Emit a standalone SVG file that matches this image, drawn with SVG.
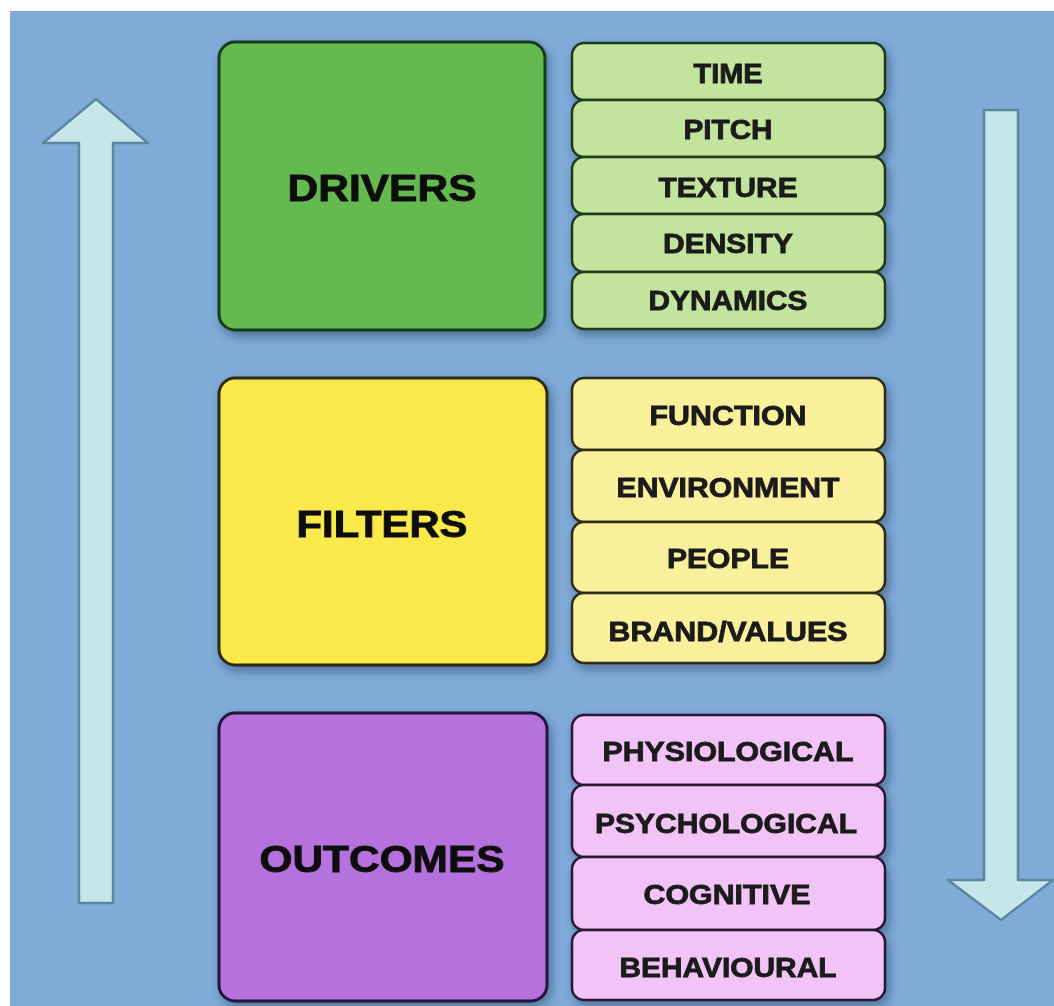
<svg xmlns="http://www.w3.org/2000/svg" width="1054" height="1006" viewBox="0 0 1054 1006">
  <defs>
    <filter id="sh" x="-10%" y="-10%" width="125%" height="125%">
      <feDropShadow dx="3" dy="5" stdDeviation="5" flood-color="#1d3550" flood-opacity="0.45"/>
    </filter>
    <style>
      .main { font-family: "Liberation Sans", Arial, Helvetica, sans-serif; font-weight: bold; font-size: 37px; text-anchor: middle; fill: #111; stroke: #111; stroke-width: 0.9; }
      .item { font-family: "Liberation Sans", Arial, Helvetica, sans-serif; font-weight: bold; font-size: 27px; text-anchor: middle; fill: #1a1a1a; stroke: #1a1a1a; stroke-width: 0.8; }
      .box { stroke-width: 3; }
      .itm { stroke-width: 2.5; }
      .g { fill: #65ba4f; stroke: #173a1c; }
      .gi { fill: #c2e49d; stroke: #1f3a1c; }
      .y { fill: #f9e94b; stroke: #2e2b12; }
      .yi { fill: #f9f09c; stroke: #2e2b12; }
      .p { fill: #b571dd; stroke: #24123a; }
      .pi { fill: #f1c3f7; stroke: #2a1536; }
      .arrow { fill: #c7e6ea; stroke: #5a87a0; stroke-width: 2.5; stroke-linejoin: round; }
    </style>
  </defs>
  <rect x="0" y="0" width="1054" height="1006" fill="#ffffff"/>
  <rect x="10" y="11" width="1044" height="995" fill="#80aad8"/>

  <g id="connectors">
    <polygon id="arrow-up" class="arrow" points="96,99 148,143 113,143 113,903 79,903 79,143 43,143"/>
    <polygon id="arrow-down" class="arrow" points="984,110 1018,110 1018,880 1053,880 1001,920 948,880 984,880"/>
  </g>

  <g id="drivers" filter="url(#sh)">
    <rect class="box g" x="219" y="42" width="326" height="288" rx="16"/>
    <text class="main" x="382" y="201" textLength="189" lengthAdjust="spacingAndGlyphs">DRIVERS</text>
  </g>
  <g id="drivers-items" filter="url(#sh)">
    <g id="time"><rect class="itm gi" x="572" y="43" width="313" height="57" rx="12"/><text class="item" x="728" y="83" textLength="69" lengthAdjust="spacingAndGlyphs">TIME</text></g>
    <g id="pitch"><rect class="itm gi" x="572" y="100" width="313" height="57" rx="12"/><text class="item" x="728" y="139" textLength="89" lengthAdjust="spacingAndGlyphs">PITCH</text></g>
    <g id="texture"><rect class="itm gi" x="572" y="157" width="313" height="57" rx="12"/><text class="item" x="728" y="197" textLength="139" lengthAdjust="spacingAndGlyphs">TEXTURE</text></g>
    <g id="density"><rect class="itm gi" x="572" y="214" width="313" height="58" rx="12"/><text class="item" x="728" y="253" textLength="130" lengthAdjust="spacingAndGlyphs">DENSITY</text></g>
    <g id="dynamics"><rect class="itm gi" x="572" y="272" width="313" height="57" rx="12"/><text class="item" x="728" y="310" textLength="159" lengthAdjust="spacingAndGlyphs">DYNAMICS</text></g>
  </g>

  <g id="filters" filter="url(#sh)">
    <rect class="box y" x="219" y="378" width="328" height="287" rx="16"/>
    <text class="main" x="382" y="537" textLength="171" lengthAdjust="spacingAndGlyphs">FILTERS</text>
  </g>
  <g id="filters-items" filter="url(#sh)">
    <g id="function"><rect class="itm yi" x="572" y="378" width="313" height="72" rx="12"/><text class="item" x="728" y="425" textLength="157" lengthAdjust="spacingAndGlyphs">FUNCTION</text></g>
    <g id="environment"><rect class="itm yi" x="572" y="450" width="313" height="72" rx="12"/><text class="item" x="728" y="497" textLength="223" lengthAdjust="spacingAndGlyphs">ENVIRONMENT</text></g>
    <g id="people"><rect class="itm yi" x="572" y="522" width="313" height="71" rx="12"/><text class="item" x="728" y="568" textLength="122" lengthAdjust="spacingAndGlyphs">PEOPLE</text></g>
    <g id="brand-values"><rect class="itm yi" x="572" y="593" width="313" height="70" rx="12"/><text class="item" x="728" y="641" textLength="239" lengthAdjust="spacingAndGlyphs">BRAND/VALUES</text></g>
  </g>

  <g id="outcomes" filter="url(#sh)">
    <rect class="box p" x="219" y="713" width="328" height="288" rx="16"/>
    <text class="main" x="382" y="872" textLength="245" lengthAdjust="spacingAndGlyphs">OUTCOMES</text>
  </g>
  <g id="outcomes-items" filter="url(#sh)">
    <g id="physiological"><rect class="itm pi" x="572" y="715" width="313" height="70" rx="12"/><text class="item" x="728" y="761" textLength="251" lengthAdjust="spacingAndGlyphs">PHYSIOLOGICAL</text></g>
    <g id="psychological"><rect class="itm pi" x="572" y="785" width="313" height="72" rx="12"/><text class="item" x="726" y="833" textLength="262" lengthAdjust="spacingAndGlyphs">PSYCHOLOGICAL</text></g>
    <g id="cognitive"><rect class="itm pi" x="572" y="857" width="313" height="73" rx="12"/><text class="item" x="727" y="904" textLength="167" lengthAdjust="spacingAndGlyphs">COGNITIVE</text></g>
    <g id="behavioural"><rect class="itm pi" x="572" y="930" width="313" height="70" rx="12"/><text class="item" x="728" y="977" textLength="217" lengthAdjust="spacingAndGlyphs">BEHAVIOURAL</text></g>
  </g>
</svg>
